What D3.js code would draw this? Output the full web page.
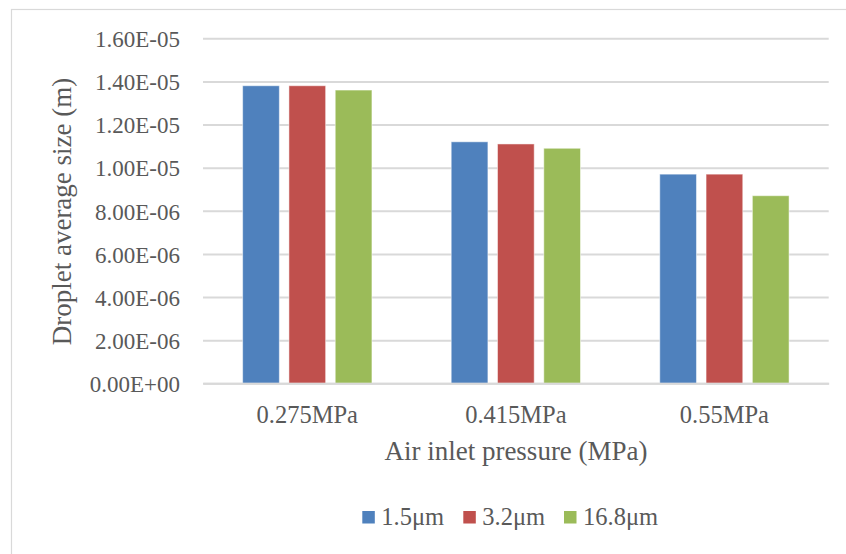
<!DOCTYPE html>
<html><head><meta charset="utf-8">
<script src="https://cdn.jsdelivr.net/npm/d3@7"></script>
<style>body{margin:0;background:#fff;} svg{display:block;}</style>
</head><body>
<svg id="c" width="846" height="554"></svg>
<script>
const categories = ["0.275MPa", "0.415MPa", "0.55MPa"];
const seriesNames = ["1.5μm", "3.2μm", "16.8μm"];
const s1 = [1.38e-5, 1.12e-5, 9.7e-6];
const s2 = [1.38e-5, 1.11e-5, 9.7e-6];
const s3 = [1.36e-5, 1.09e-5, 8.7e-6];
const yTicks = [0, 2e-6, 4e-6, 6e-6, 8e-6, 1e-5, 1.2e-5, 1.4e-5, 1.6e-5];
const colors = ["#4F81BD", "#C0504D", "#9BBB59"];
const series = [s1, s2, s3];

const svg = d3.select("#c");
const font = "'Liberation Serif', 'Times New Roman', serif";
const txt = "#595959";

svg.append("rect").attr("x", 11.5).attr("y", 9.5).attr("width", 846).attr("height", 560)
  .attr("fill", "#fff").attr("stroke", "#d9d9d9").attr("stroke-width", 1.2);

const L = 203, R = 828.7, T = 38.3, B = 383.3;
const x = d3.scaleBand().domain(categories).range([L, R]).paddingInner(0).paddingOuter(0);
const y = d3.scaleLinear().domain([0, 1.6e-5]).range([B, T]);
const xs = d3.scaleBand().domain(d3.range(3)).range([0, x.bandwidth()]).paddingInner(0.207).paddingOuter(0.856);

function fmt(v){
  if (v === 0) return "0.00E+00";
  const e = Math.floor(Math.log10(v) + 1e-9);
  const m = v / Math.pow(10, e);
  return m.toFixed(2) + "E" + (e < 0 ? "-" : "+") + String(Math.abs(e)).padStart(2, "0");
}

// gridlines + y tick labels
const yAxis = d3.axisLeft(y).tickValues(yTicks).tickSize(-(R - L)).tickFormat(fmt).tickPadding(23);
const ga = svg.append("g").attr("transform", `translate(${L},0)`).call(yAxis);
ga.select(".domain").remove();
ga.selectAll(".tick line").attr("stroke", "#d9d9d9").attr("stroke-width", 2);
ga.selectAll(".tick text").attr("fill", txt).attr("dy", "0.36em").style("font-family", font).style("font-size", "23px");

// bars
series.forEach((s, i) => {
  svg.append("g").selectAll("rect").data(s).join("rect")
    .attr("x", (d, j) => x(categories[j]) + xs(i))
    .attr("y", d => y(d))
    .attr("width", xs.bandwidth())
    .attr("height", d => B - y(d))
    .attr("fill", colors[i])
    .attr("stroke", "#fff").attr("stroke-opacity", 0.5).attr("stroke-width", 1);
});

// x axis
const xAxis = d3.axisBottom(x).tickSize(0).tickPadding(22);
const gx = svg.append("g").attr("transform", `translate(0,${B})`).call(xAxis);
gx.select(".domain").attr("stroke", "#d9d9d9").attr("stroke-width", 2);
gx.selectAll(".tick text").attr("fill", txt).style("font-family", font).style("font-size", "24.5px");

// titles
svg.append("text").attr("x", 516).attr("y", 460).attr("text-anchor", "middle")
  .attr("fill", txt).style("font-family", font).style("font-size", "27px").text("Air inlet pressure (MPa)");
svg.append("text").attr("transform", "translate(71,211.5) rotate(-90)").attr("text-anchor", "middle")
  .attr("fill", txt).style("font-family", font).style("font-size", "27px").text("Droplet average size (m)");

// legend
const legX = [362.3, 463.3, 564];
const lg = svg.append("g");
seriesNames.forEach((n, i) => {
  lg.append("rect").attr("x", legX[i]).attr("y", 511).attr("width", 12.5).attr("height", 12.5).attr("fill", colors[i]);
  lg.append("text").attr("x", legX[i] + 19).attr("y", 525).attr("fill", txt)
    .style("font-family", font).style("font-size", "24.5px").text(n);
});
</script>
</body></html>
